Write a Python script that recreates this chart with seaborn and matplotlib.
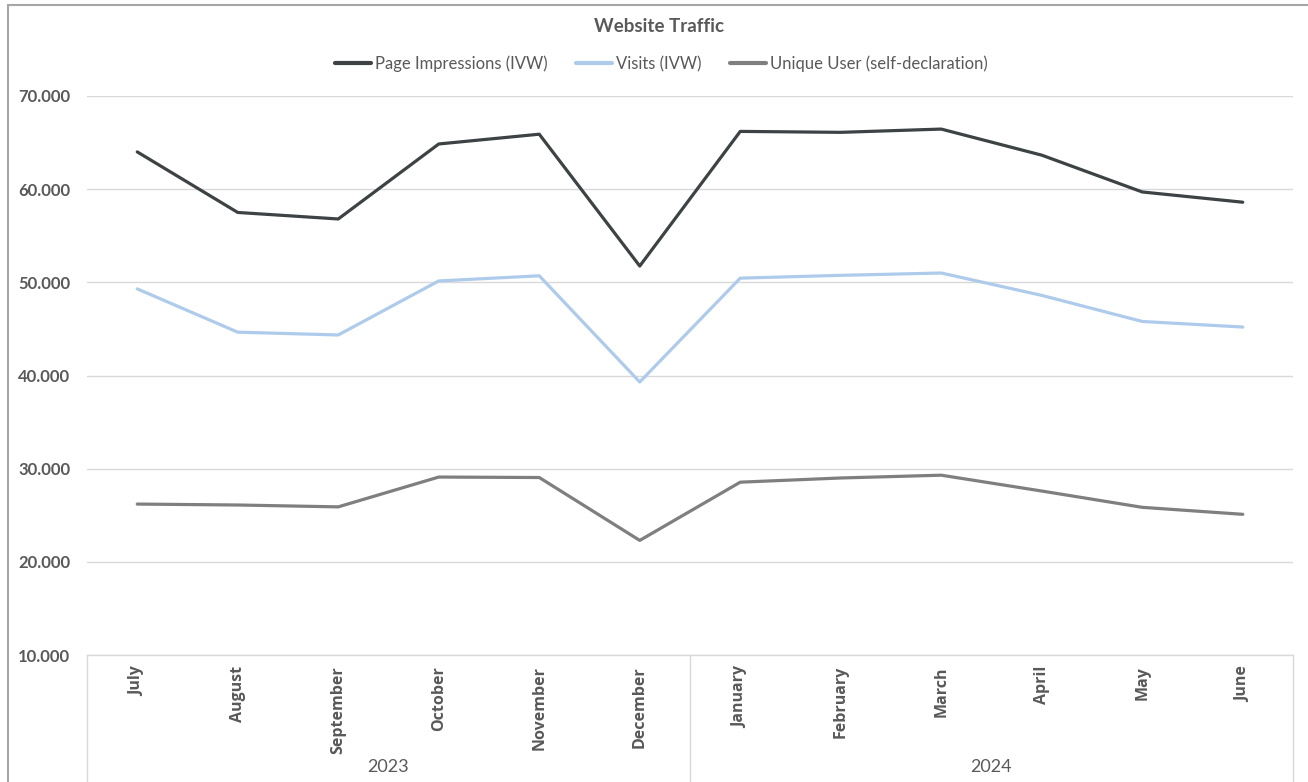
import matplotlib
matplotlib.use("Agg")
import matplotlib.pyplot as plt
import matplotlib.transforms as mtransforms
from matplotlib.lines import Line2D
import seaborn as sns
import pandas as pd

# Monthly traffic, July 2023 - June 2024
months = ["July", "August", "September", "October", "November", "December",
          "January", "February", "March", "April", "May", "June"]
years = ["2023", "2024"]
page_impressions = [64000, 57500, 56800, 64850, 65900, 51750,
                    66200, 66100, 66450, 63650, 59700, 58600]
visits = [49300, 44650, 44350, 50150, 50700, 39300,
          50450, 50750, 51000, 48600, 45800, 45200]
unique_users = [26200, 26100, 25900, 29100, 29050, 22300,
                28550, 29000, 29300, 27600, 25850, 25100]
series_names = ["Page Impressions (IVW)", "Visits (IVW)", "Unique User (self-declaration)"]
series_colors = ["#3d4244", "#aecbeb", "#7f7f7f"]
y_ticks = [10000, 20000, 30000, 40000, 50000, 60000, 70000]

df = pd.DataFrame({
    "month": months * 3,
    "value": page_impressions + visits + unique_users,
    "series": [series_names[0]] * 12 + [series_names[1]] * 12 + [series_names[2]] * 12,
})
df["pos"] = list(range(12)) * 3

sns.set_theme(style="white")
plt.rcParams["font.family"] = ["Lato", "DejaVu Sans"]
text_color = "#595959"
grid_color = "#d9d9d9"

fig = plt.figure(figsize=(13.08, 7.82), dpi=100)
W, H = 1308, 782
ax = fig.add_axes([87 / W, 1 - 655 / H, (1293 - 87) / W, (655 - 96) / H])

sns.lineplot(data=df, x="pos", y="value", hue="series", hue_order=series_names,
             palette=series_colors, linewidth=2.3, ax=ax, legend=False,
             sort=False, zorder=3)

ax.set_xlim(-0.5, 11.5)
ax.set_ylim(10000, 70000)
ax.set_yticks(y_ticks)
ax.set_yticklabels([f"{v:,}".replace(",", ".") for v in y_ticks],
                   fontsize=12, fontweight="bold", color=text_color)
ax.set_xticks(range(12))
ax.set_xticklabels(months, rotation=90, fontsize=11.5, fontweight="bold",
                   color=text_color, family=["Open Sans", "DejaVu Sans"])
ax.tick_params(axis="both", length=0)
ax.tick_params(axis="y", pad=12)
ax.tick_params(axis="x", pad=8)
ax.set_xlabel("")
ax.set_ylabel("")
ax.yaxis.grid(True, color=grid_color, linewidth=1)
ax.set_axisbelow(True)
for side in ["left", "right", "top"]:
    ax.spines[side].set_visible(False)
ax.spines["bottom"].set_color(grid_color)
ax.spines["bottom"].set_linewidth(1)

# Year group separators and labels under the month axis
blend = mtransforms.blended_transform_factory(ax.transData, ax.transAxes)
bottom_y = -(H - 655) / (655 - 96)
for xs in [-0.5, 5.5, 11.5]:
    ax.add_line(Line2D([xs, xs], [0, bottom_y], transform=blend, color=grid_color,
                       linewidth=1, clip_on=False))
for i, yr in enumerate(years):
    ax.text(2.5 + 6 * i, -(767 - 655) / (655 - 96), yr, transform=blend,
            ha="center", va="center", fontsize=13, color=text_color)

# Title and legend
fig.text(659 / W, 1 - 27 / H, "Website Traffic", ha="center", va="center",
         fontsize=13.5, fontweight="bold", color=text_color)
handles = [Line2D([0], [0], color=c, linewidth=3) for c in series_colors]
fig.legend(handles, series_names, loc="center", bbox_to_anchor=(661 / W, 1 - 64 / H),
           ncol=3, frameon=False, fontsize=12, labelcolor=text_color,
           handlelength=2.2, handletextpad=0.2, columnspacing=1.7)

# Chart area border
fig.add_artist(Line2D([8 / W, 8 / W], [0, 1 - 4.5 / H], transform=fig.transFigure,
                      color="#a6a6a6", linewidth=1.5))
fig.add_artist(Line2D([8 / W, 1], [1 - 4.5 / H, 1 - 4.5 / H], transform=fig.transFigure,
                      color="#a6a6a6", linewidth=1.5))

fig.savefig("out.png", dpi=100, facecolor="white")
